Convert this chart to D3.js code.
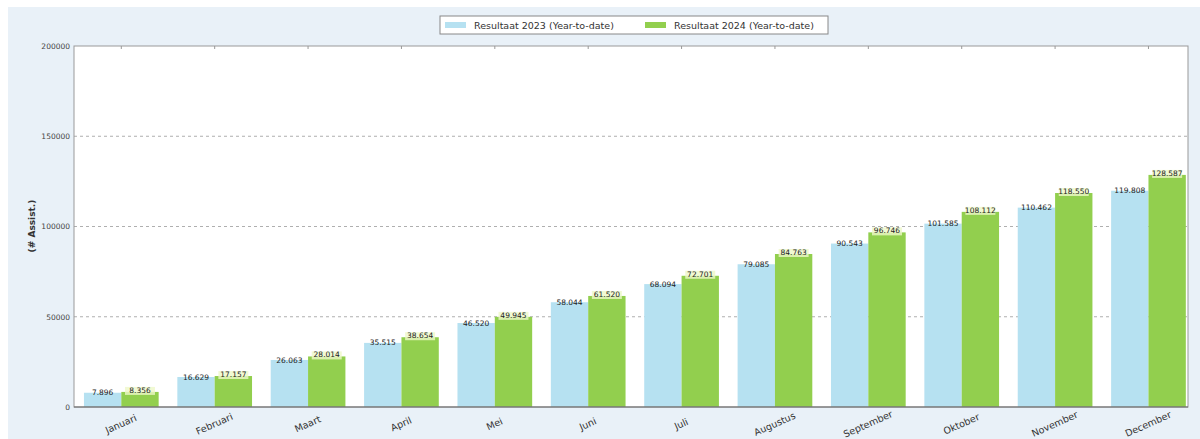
<!DOCTYPE html>
<html><head><meta charset="utf-8">
<script src="https://cdn.jsdelivr.net/npm/d3@7"></script>
<style>body{margin:0;background:#fff;}svg{display:block;}</style>
</head><body>
<svg id="c" width="1200" height="439"></svg>
<script>
const months = ["Januari","Februari","Maart","April","Mei","Juni","Juli","Augustus","September","Oktober","November","December"];
const series = ["Resultaat 2023 (Year-to-date)","Resultaat 2024 (Year-to-date)"];
const values2023 = [7896,16629,26063,35515,46520,58044,68094,79085,90543,101585,110462,119808];
const values2024 = [8356,17157,28014,38654,49945,61520,72701,84763,96746,108112,118550,128587];
const yTicks = [0,50000,100000,150000,200000];
const colors = ["#b6e1f1","#92cf4e"];

const svg = d3.select("#c");
svg.append("rect").attr("x",8).attr("y",7).attr("width",1192).attr("height",432).attr("fill","#e9f1f8");

const m = {l:74, r:1188, t:46, b:407};
const x = d3.scaleBand().domain(months).range([m.l,m.r]).paddingInner(0.2).paddingOuter(0.065).align(0.82);
const xs = d3.scaleBand().domain([0,1]).range([0,x.bandwidth()]);
const y = d3.scaleLinear().domain([0,200000]).range([m.b,m.t]);
const fmt = d3.formatLocale({decimal:",",thousands:".",grouping:[3],currency:["",""]}).format(",d");

svg.append("rect").attr("x",m.l).attr("y",m.t).attr("width",m.r-m.l).attr("height",m.b-m.t).attr("fill","#fff");

// gridlines
svg.append("g").selectAll("line").data(yTicks.filter(d=>d>0&&d<200000)).join("line")
  .attr("x1",m.l).attr("x2",m.r).attr("y1",d=>y(d)).attr("y2",d=>y(d))
  .attr("stroke","#9a9a9a").attr("stroke-width",0.8).attr("stroke-dasharray","3,3");

// bars
const data = months.map((mo,i)=>({mo, v:[values2023[i],values2024[i]]}));
const g = svg.append("g").selectAll("g").data(data).join("g").attr("transform",d=>`translate(${x(d.mo)},0)`);
g.selectAll("rect").data(d=>d.v.map((v,k)=>({v,k}))).join("rect")
  .attr("x",d=>xs(d.k)).attr("width",xs.bandwidth())
  .attr("y",d=>y(d.v)).attr("height",d=>y(0)-y(d.v)).attr("fill",d=>colors[d.k]);
// label highlights for green
g.selectAll("rect.hl").data(d=>[{v:d.v[1],k:1}]).join("rect").attr("class","hl")
  .attr("x",d=>xs(d.k)+xs.bandwidth()/2-15).attr("width",30)
  .attr("y",d=>y(d.v)-5).attr("height",8).attr("fill","#eef8c8").attr("opacity",0.8);
g.selectAll("text").data(d=>d.v.map((v,k)=>({v,k}))).join("text")
  .attr("x",d=>xs(d.k)+xs.bandwidth()/2).attr("y",d=>y(d.v)+(d.k?-1:0.5))
  .attr("text-anchor","middle").attr("dominant-baseline","middle")
  .attr("font-family","DejaVu Sans").attr("font-size",7.5).attr("fill","#222")
  .text(d=>fmt(d.v));

// frame
svg.append("rect").attr("x",m.l).attr("y",m.t).attr("width",m.r-m.l).attr("height",m.b-m.t)
  .attr("fill","none").attr("stroke","#999").attr("stroke-width",1);
svg.append("line").attr("x1",m.l).attr("x2",m.r).attr("y1",m.b).attr("y2",m.b).attr("stroke","#666").attr("stroke-width",1.2);
// top ticks
svg.append("g").selectAll("line").data(months).join("line")
  .attr("x1",d=>x(d)+x.bandwidth()/2).attr("x2",d=>x(d)+x.bandwidth()/2)
  .attr("y1",m.t).attr("y2",m.t+3).attr("stroke","#999");

// y axis
const ya = svg.append("g").attr("transform",`translate(${m.l},0)`)
  .call(d3.axisLeft(y).tickValues(yTicks).tickFormat(d3.format("d")).tickSize(0).tickPadding(4));
ya.select(".domain").remove();
ya.selectAll("text").attr("font-family","DejaVu Sans").attr("font-size",7.5).attr("fill","#444");

svg.append("text").attr("transform","translate(35,226) rotate(-90)").attr("text-anchor","middle")
  .attr("font-family","DejaVu Sans").attr("font-size",9).attr("font-weight","bold").attr("fill","#333")
  .text("(# Assist.)");

// x axis labels
const xa = svg.append("g").attr("transform",`translate(0,${m.b})`)
  .call(d3.axisBottom(x).tickSize(0).tickPadding(0));
xa.select(".domain").remove();
xa.selectAll(".tick text").attr("font-family","DejaVu Sans").attr("font-size",9.5).attr("fill","#333")
  .attr("text-anchor","middle").attr("dy",0).attr("y",0)
  .attr("transform","translate(1,20) rotate(-24)");

// legend
const lg = svg.append("g");
lg.append("rect").attr("x",440).attr("y",16).attr("width",388).attr("height",18).attr("fill","#fff").attr("stroke","#888");
const lx = [445,645];
series.forEach((s,i)=>{
  lg.append("rect").attr("x",lx[i]).attr("y",22).attr("width",21).attr("height",6).attr("fill",colors[i]);
  lg.append("text").attr("x",lx[i]+29).attr("y",28.5).attr("font-family","DejaVu Sans").attr("font-size",9.5).attr("fill","#333").text(s);
});
</script>
</body></html>
